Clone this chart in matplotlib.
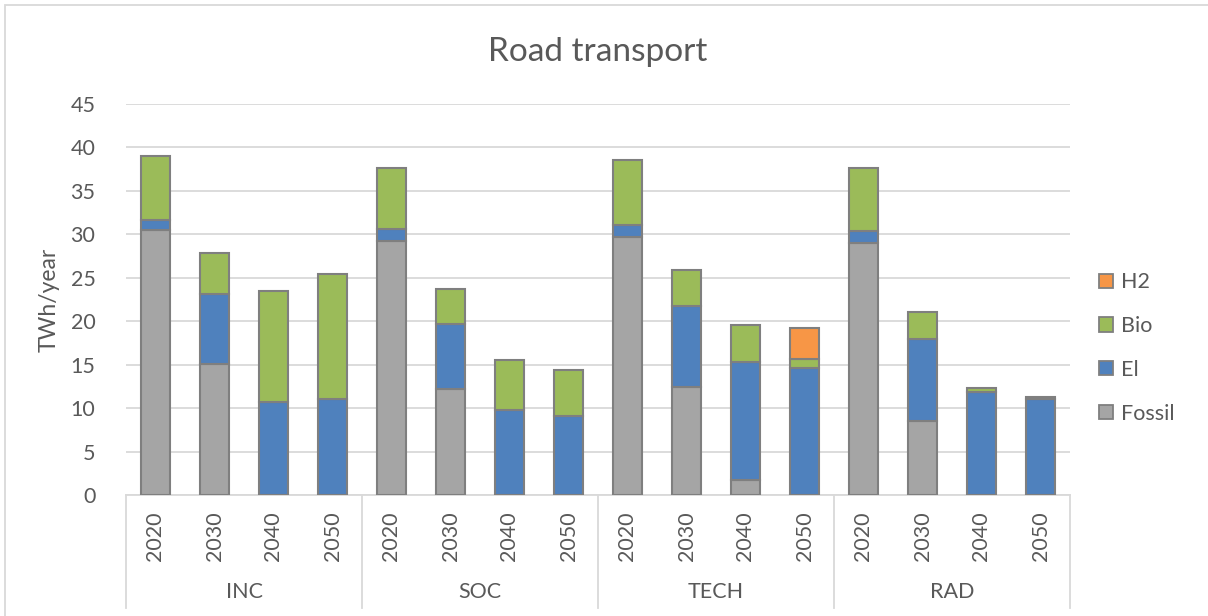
import matplotlib
matplotlib.use("Agg")
import matplotlib.pyplot as plt
import numpy as np
from matplotlib.patches import Rectangle, Patch

plt.rcParams['font.family'] = ['Lato', 'DejaVu Sans']

scenarios = ["INC", "SOC", "TECH", "RAD"]
years = ["2020", "2030", "2040", "2050"]

# values in TWh/year, scenario by scenario (INC, SOC, TECH, RAD) x years
fossil = [30.5, 15.1, 0.0, 0.0,
          29.2, 12.2, 0.0, 0.0,
          29.7, 12.4, 1.7, 0.0,
          29.0, 8.5, 0.0, 0.0]
el = [1.2, 8.0, 10.7, 11.0,
      1.4, 7.5, 9.8, 9.1,
      1.4, 9.4, 13.6, 14.6,
      1.4, 9.4, 11.9, 11.1]
bio = [7.3, 4.8, 12.8, 14.4,
       7.0, 4.0, 5.7, 5.3,
       7.4, 4.1, 4.3, 1.0,
       7.2, 3.2, 0.4, 0.2]
h2 = [0.0, 0.0, 0.0, 0.0,
      0.0, 0.0, 0.0, 0.0,
      0.0, 0.0, 0.0, 3.6,
      0.0, 0.0, 0.0, 0.0]

series = [("Fossil", fossil, "#a5a5a5"),
          ("El", el, "#4f81bd"),
          ("Bio", bio, "#9bbb59"),
          ("H2", h2, "#f79646")]

W, H = 1208, 616
fig = plt.figure(figsize=(W / 100, H / 100), dpi=100)
ax = fig.add_axes([126 / W, 1 - 495 / H, (1070 - 126) / W, (495 - 104) / H])

text_col = "#595959"
grid_col = "#d9d9d9"
edge_col = "#7f7f7f"

x = np.arange(len(scenarios) * len(years))
bottom = np.zeros(len(x))
for name, vals, col in series:
    vals = np.array(vals)
    mask = vals > 0
    ax.bar(x[mask], vals[mask], 0.5, bottom=bottom[mask], color=col,
           edgecolor=edge_col, linewidth=1.5, zorder=3)
    bottom += vals

ax.set_xlim(-0.5, len(x) - 0.5)
ax.set_ylim(0, 45)
ax.set_yticks(np.arange(0, 46, 5))
ax.yaxis.grid(True, color=grid_col, linewidth=1.3)
ax.set_axisbelow(True)
for s in ["top", "right", "left"]:
    ax.spines[s].set_visible(False)
ax.spines["bottom"].set_color(grid_col)
ax.spines["bottom"].set_linewidth(1.3)
ax.tick_params(axis="y", length=0, labelsize=15.5, labelcolor=text_col, pad=22)
ax.set_xticks([])
ax.set_ylabel("TWh/year", fontsize=16.5, color=text_col, labelpad=8)

# two-level category axis
trans = ax.get_xaxis_transform()
sep_bottom = -(608 - 495) / (495 - 104)
for i in range(len(scenarios) + 1):
    xs = i * len(years) - 0.5
    ax.plot([xs, xs], [0, sep_bottom], transform=trans, color=grid_col,
            linewidth=1.3, clip_on=False)
for i, xi in enumerate(x):
    ax.text(xi, -(536 - 495) / 391, years[i % len(years)], transform=trans,
            rotation=90, ha="center", va="center", fontsize=15.5, color=text_col)
for j, sc in enumerate(scenarios):
    ax.text(j * len(years) + 1.5, -(592 - 495) / 391, sc, transform=trans,
            ha="center", va="center", fontsize=15.5, color=text_col)

ax.text(0.5, 1 + (104 - 52) / 391, "Road transport", transform=ax.transAxes,
        ha="center", va="center", fontsize=24, color=text_col)

handles = [Patch(facecolor=col, edgecolor=edge_col, linewidth=1.3, label=name)
           for name, vals, col in series[::-1]]
fig.legend(handles=handles, loc="center left", bbox_to_anchor=(1080 / W, 1 - 348 / H),
           frameon=False, fontsize=15.5, labelcolor=text_col, handlelength=0.65,
           handleheight=0.65, handletextpad=0.35, labelspacing=1.1)

# chart frame
fig.patches.append(Rectangle((5 / W, -0.1), 1.1, 1 - 5 / H + 0.1, transform=fig.transFigure,
                             fill=False, edgecolor=grid_col, linewidth=1.3))

fig.savefig("out.png", dpi=100)
